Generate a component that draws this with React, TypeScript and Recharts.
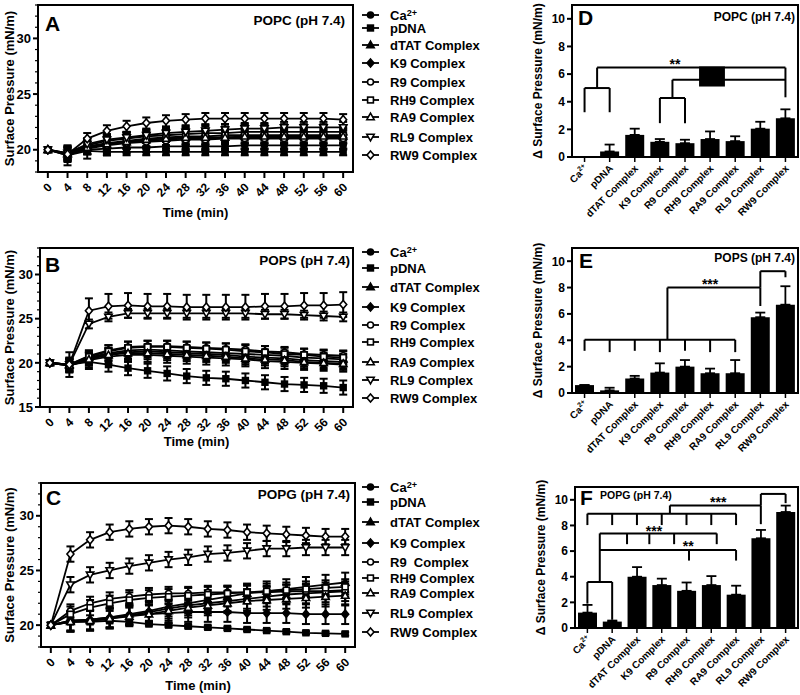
import React from "react";
import {
  LineChart,
  Line,
  BarChart,
  Bar,
  XAxis,
  YAxis,
  ErrorBar,
  ReferenceArea,
  ReferenceLine,
  ReferenceDot,
} from "recharts";

const FONT = "'Liberation Sans', Arial, Helvetica, sans-serif";

const times = [0, 4, 8, 12, 16, 20, 24, 28, 32, 36, 40, 44, 48, 52, 56, 60];
const seriesNames = [
  "Ca2+",
  "pDNA",
  "dTAT Complex",
  "K9 Complex",
  "R9 Complex",
  "RH9 Complex",
  "RA9 Complex",
  "RL9 Complex",
  "RW9 Complex",
];
const popgNames = seriesNames.map((n) => (n === "R9 Complex" ? "R9\u00a0 Complex" : n));

// surface pressure (mN/m) over time, one row per series (same order as seriesNames)
const popcCurves = [
  [20, 19.6, 20.0, 20.1, 20.2, 20.2, 20.3, 20.3, 20.3, 20.3, 20.4, 20.4, 20.4, 20.4, 20.4, 20.4],
  [20, 19.5, 19.9, 19.8, 19.8, 19.8, 19.8, 19.8, 19.8, 19.8, 19.8, 19.8, 19.8, 19.8, 19.8, 19.8],
  [20, 19.7, 20.4, 20.8, 21.0, 21.2, 21.3, 21.4, 21.5, 21.5, 21.6, 21.6, 21.6, 21.6, 21.6, 21.6],
  [20, 19.6, 20.2, 20.5, 20.7, 20.8, 20.9, 21.0, 21.0, 21.1, 21.1, 21.1, 21.1, 21.1, 21.1, 21.1],
  [20, 19.5, 20.1, 20.4, 20.6, 20.7, 20.8, 20.9, 20.9, 21.0, 21.0, 21.0, 21.0, 21.0, 21.0, 21.0],
  [20, 19.6, 20.3, 20.6, 20.8, 21.0, 21.1, 21.2, 21.2, 21.3, 21.3, 21.3, 21.3, 21.3, 21.3, 21.3],
  [20, 19.6, 20.2, 20.5, 20.7, 20.9, 21.0, 21.1, 21.1, 21.1, 21.2, 21.2, 21.2, 21.2, 21.2, 21.2],
  [20, 19.7, 20.5, 20.9, 21.1, 21.3, 21.5, 21.6, 21.7, 21.8, 21.9, 21.9, 22.0, 22.0, 22.0, 22.0],
  [20, 19.6, 21.0, 21.7, 22.1, 22.4, 22.6, 22.7, 22.8, 22.8, 22.8, 22.8, 22.8, 22.8, 22.8, 22.7],
];
const popcErrors = [0.4, 0.3, 0.6, 0.6, 0.9, 0.7, 0.6, 0.5, 0.5];

const popsCurves = [
  [20, 19.7, 20.3, 20.7, 20.9, 20.9, 20.8, 20.7, 20.6, 20.5, 20.4, 20.2, 20.1, 20.0, 19.9, 19.8],
  [20, 19.8, 20.1, 19.8, 19.4, 19.1, 18.8, 18.5, 18.3, 18.2, 18.0, 17.8, 17.6, 17.5, 17.4, 17.2],
  [20, 19.8, 20.6, 21.1, 21.4, 21.5, 21.4, 21.3, 21.2, 21.1, 21.0, 20.9, 20.8, 20.6, 20.5, 20.4],
  [20, 19.7, 20.5, 21.0, 21.2, 21.3, 21.2, 21.1, 21.0, 20.9, 20.7, 20.6, 20.5, 20.3, 20.2, 20.1],
  [20, 19.8, 20.8, 21.4, 21.8, 21.9, 21.9, 21.8, 21.7, 21.6, 21.5, 21.3, 21.2, 21.0, 20.9, 20.8],
  [20, 19.8, 20.7, 21.3, 21.7, 21.8, 21.8, 21.7, 21.6, 21.5, 21.3, 21.2, 21.0, 20.9, 20.7, 20.6],
  [20, 19.7, 20.4, 20.9, 21.1, 21.1, 21.0, 20.9, 20.8, 20.7, 20.5, 20.4, 20.3, 20.1, 20.0, 19.9],
  [20, 19.8, 24.4, 25.2, 25.6, 25.6, 25.6, 25.6, 25.6, 25.6, 25.6, 25.5, 25.5, 25.4, 25.3, 25.2],
  [20, 19.8, 25.9, 26.4, 26.5, 26.4, 26.4, 26.3, 26.3, 26.3, 26.3, 26.4, 26.4, 26.5, 26.5, 26.6],
];
const popsErrors = [0.8, 0.8, 0.6, 0.7, 0.6, 0.7, 0.7, 0.5, 1.4];

const popgCurves = [
  [20, 20.3, 20.4, 20.6, 20.9, 21.2, 21.5, 21.8, 22.0, 22.2, 22.4, 22.6, 22.8, 22.9, 23.0, 23.1],
  [20, 20.3, 20.3, 20.4, 20.3, 20.1, 20.0, 19.9, 19.8, 19.7, 19.6, 19.5, 19.4, 19.3, 19.25, 19.2],
  [20, 20.4, 20.5, 20.7, 21.0, 21.3, 21.7, 22.0, 22.3, 22.6, 22.9, 23.1, 23.3, 23.5, 23.7, 23.9],
  [20, 20.4, 20.5, 20.7, 20.9, 21.0, 21.1, 21.2, 21.2, 21.2, 21.1, 21.1, 21.1, 21.0, 21.0, 21.0],
  [20, 21.3, 22.0, 22.4, 22.6, 22.8, 22.9, 22.9, 23.0, 23.0, 23.0, 23.0, 23.1, 23.1, 23.1, 23.2],
  [20, 21.0, 21.6, 22.0, 22.3, 22.5, 22.6, 22.7, 22.8, 22.9, 23.0, 23.1, 23.2, 23.3, 23.4, 23.5],
  [20, 20.3, 20.4, 20.6, 20.8, 21.0, 21.3, 21.6, 21.8, 22.0, 22.2, 22.3, 22.4, 22.5, 22.6, 22.7],
  [20, 23.7, 24.6, 25.0, 25.4, 25.7, 26.0, 26.2, 26.5, 26.6, 26.8, 27.0, 27.0, 27.1, 27.1, 27.1],
  [20, 26.5, 27.8, 28.5, 28.8, 29.0, 29.1, 29.0, 28.8, 28.7, 28.5, 28.4, 28.3, 28.2, 28.1, 28.1],
];
const popgErrors = [0.9, 0.15, 0.9, 0.9, 0.6, 0.7, 0.9, 0.7, 0.7];

// change in surface pressure (mN/m) per category
const popcDelta = [0, 0.4, 1.6, 1.1, 1.0, 1.3, 1.15, 2.05, 2.8];
const popcDeltaErr = [0, 0.5, 0.45, 0.2, 0.25, 0.55, 0.35, 0.5, 0.65];
const popsDelta = [0.6, 0.2, 1.1, 1.55, 2.0, 1.5, 1.5, 5.75, 6.7];
const popsDeltaErr = [0, 0.2, 0.2, 0.7, 0.5, 0.35, 1.0, 0.35, 1.4];
const popgDelta = [1.2, 0.5, 4.0, 3.35, 2.9, 3.35, 2.6, 7.0, 9.05];
const popgDeltaErr = [0.6, 0.08, 0.75, 0.5, 0.65, 0.7, 0.7, 0.65, 0.5];

// significance brackets: [x1, y1, x2, y2] in (category index, mN/m)
const popcBrackets = [
  [0, 3.24, 0, 4.99], [0, 4.99, 1, 4.99], [1, 4.99, 1, 3.24],
  [0.5, 4.99, 0.5, 6.47], [0.5, 6.47, 8, 6.47], [8, 6.47, 8, 4.32],
  [3.5, 5.59, 8, 5.59],
  [3, 2.45, 3, 4.27], [3, 4.27, 4, 4.27], [4, 4.27, 4, 2.45], [3.5, 4.27, 3.5, 5.59],
];
const popcBoxes = [[4.56, 5.1, 5.59, 6.55]];
const popcStars = [{ x: 3.6, y: 6.95, t: "**" }];

const popsBrackets = [
  [0, 4.04, 6, 4.04],
  [0, 3.2, 0, 4.04], [1, 3.1, 1, 4.04], [2, 3.2, 2, 4.04], [3, 3.1, 3, 4.04],
  [4, 3.2, 4, 4.04], [5, 3.1, 5, 4.04], [6, 3.1, 6, 4.04],
  [3.3, 4.04, 3.3, 8.0], [3.3, 8.0, 7, 8.0], [7, 8.0, 7, 6.6],
  [7, 8.0, 7, 9.24], [7, 9.24, 8, 9.24], [8, 9.24, 8, 8.78],
];
const popsStars = [{ x: 5.0, y: 8.5, t: "***" }];

const popgBrackets = [
  [0, 8.92, 6, 8.92],
  [0, 8.03, 0, 8.92], [1, 8.03, 1, 8.92], [2, 8.03, 2, 8.92], [3, 8.03, 3, 8.92],
  [4, 8.03, 4, 8.92], [5, 8.03, 5, 8.92], [6, 8.03, 6, 8.92],
  [3.33, 8.92, 3.33, 9.56], [3.33, 9.56, 7, 9.56], [7, 9.56, 7, 8.1],
  [7, 9.56, 7, 10.46], [7, 10.46, 8, 10.46], [8, 10.46, 8, 9.74],
  [0.5, 7.38, 5.22, 7.38],
  [1.6, 6.54, 1.6, 7.38], [2.5, 6.54, 2.5, 7.38], [3.5, 6.54, 3.5, 7.38], [5.22, 6.54, 5.22, 7.38],
  [0.5, 6.08, 6, 6.08], [4.1, 5.26, 4.1, 6.08], [6, 5.26, 6, 6.08],
  [0.5, 3.59, 0.5, 7.38],
  [0, 3.59, 1, 3.59], [0, 3.59, 0, 1.9], [1, 3.59, 1, 0.64],
];
const popgStars = [
  { x: 5.28, y: 10.1, t: "***" },
  { x: 2.69, y: 7.8, t: "***" },
  { x: 4.07, y: 6.6, t: "**" },
];

const markerKinds = ["circle", "square", "triangle", "diamond", "circle", "square", "triangle", "triangleDown", "diamond"];
const markerFilled = [true, true, true, true, false, false, false, false, false];

function Marker({ cx, cy, kind }: { cx: number; cy: number; kind: number }) {
  const props = { fill: markerFilled[kind] ? "#000" : "#fff", stroke: "#000", strokeWidth: 1.6 };
  switch (markerKinds[kind]) {
    case "circle":
      return <circle cx={cx} cy={cy} r={3} {...props} />;
    case "square":
      return <rect x={cx - 2.9} y={cy - 2.9} width={5.8} height={5.8} {...props} />;
    case "triangle":
      return <polygon points={`${cx},${cy - 3.8} ${cx + 3.7},${cy + 2.7} ${cx - 3.7},${cy + 2.7}`} {...props} />;
    case "triangleDown":
      return <polygon points={`${cx},${cy + 3.8} ${cx + 3.7},${cy - 2.7} ${cx - 3.7},${cy - 2.7}`} {...props} />;
    default:
      return <polygon points={`${cx},${cy - 4.1} ${cx + 3.5},${cy} ${cx},${cy + 4.1} ${cx - 3.5},${cy}`} {...props} />;
  }
}

function CaLabel({ rise = 5 }: { rise?: number }) {
  return (
    <>
      <tspan>Ca</tspan>
      <tspan dy={-rise} fontSize="0.7em">2+</tspan>
    </>
  );
}

const boldText = { fontFamily: FONT, fontWeight: "bold" as const, fill: "#000" };

function makeYTick(isMajor: (v: number) => boolean, fontSize: number) {
  return (p: any) => {
    const v = p.payload.value;
    const major = isMajor(v);
    return (
      <g key={`yt-${v}`}>
        <line x1={p.x - (major ? 5 : 3)} x2={p.x} y1={p.y} y2={p.y} stroke="#000" strokeWidth={major ? 2 : 1.2} />
        {major && (
          <text x={p.x - 7} y={p.y + fontSize * 0.36} textAnchor="end" fontSize={fontSize} {...boldText}>
            {v}
          </text>
        )}
      </g>
    );
  };
}

const timeTick = (p: any) => {
  const ax = p.x + 5;
  const ay = p.y + 16;
  return (
    <g key={`xt-${p.payload.value}`}>
      <line x1={p.x} x2={p.x} y1={p.y} y2={p.y + 6} stroke="#000" strokeWidth={2} />
      <text transform={`rotate(-45 ${ax} ${ay})`} x={ax} y={ay} textAnchor="end" fontSize={12} {...boldText}>
        {p.payload.value}
      </text>
    </g>
  );
};

function makeCatTick(names: string[]) {
  return (p: any) => {
    const name = names[p.payload.value];
    const ax = p.x + 4;
    const ay = p.y + 12;
    return (
      <g key={`ct-${p.payload.value}`}>
        <line x1={p.x} x2={p.x} y1={p.y} y2={p.y + 5} stroke="#000" strokeWidth={1.5} />
        <text transform={`rotate(-45 ${ax} ${ay})`} x={ax} y={ay} textAnchor="end" fontSize={10} {...boldText}>
          {name === "Ca2+" ? <CaLabel rise={4} /> : name}
        </text>
      </g>
    );
  };
}

type TimeProps = {
  top: number;
  axisW: number;
  width: number;
  height: number;
  xAxisH: number;
  labelOffset: number;
  curves: number[][];
  errs: number[];
  yMin: number;
  yMax: number;
};

function TimeChart({ top, axisW, width, height, xAxisH, labelOffset, curves, errs, yMin, yMax }: TimeProps) {
  const rows = times.map((t, i) => {
    const r: Record<string, number> = { t };
    curves.forEach((c, s) => {
      r[`s${s}`] = c[i];
      r[`e${s}`] = i === 0 ? 0 : errs[s];
    });
    return r;
  });
  const yTicks: number[] = [];
  for (let v = yMin; v <= yMax; v++) yTicks.push(v);

  return (
    <div style={{ position: "absolute", left: 0, top }}>
      <LineChart width={width} height={height} data={rows} margin={{ top: 5, right: 3, bottom: 0, left: 0 }}>
        <XAxis
          type="number"
          dataKey="t"
          domain={[-2, 62]}
          ticks={times}
          interval={0}
          allowDataOverflow
          height={xAxisH}
          tickSize={0}
          tickMargin={0}
          tickLine={false}
          axisLine={{ stroke: "#000", strokeWidth: 2 }}
          tick={timeTick}
          label={{ value: "Time (min)", position: "insideBottom", offset: labelOffset, style: { ...boldText, fontSize: 13 } }}
        />
        <YAxis
          type="number"
          domain={[yMin, yMax]}
          ticks={yTicks}
          interval={0}
          allowDataOverflow
          width={axisW}
          tickSize={0}
          tickMargin={0}
          tickLine={false}
          axisLine={{ stroke: "#000", strokeWidth: 2 }}
          tick={makeYTick((v) => v % 5 === 0, 13)}
          label={{
            value: "Surface Pressure (mN/m)",
            angle: -90,
            position: "insideLeft",
            offset: 9,
            style: { ...boldText, fontSize: 13, textAnchor: "middle" },
          }}
        />
        {curves.map((_, s) => (
          <Line
            key={s}
            type="linear"
            dataKey={`s${s}`}
            stroke="#000"
            strokeWidth={1.8}
            isAnimationActive={false}
            activeDot={false}
            dot={(p: any) => <Marker key={`d${s}-${p.index}`} cx={p.cx} cy={p.cy} kind={s} />}
          >
            <ErrorBar dataKey={`e${s}`} width={4} stroke="#000" strokeWidth={2} direction="y" />
          </Line>
        ))}
        <ReferenceArea x1={-2} x2={62} y1={yMin} y2={yMax} fill="none" stroke="#000" strokeWidth={2} ifOverflow="visible" />
      </LineChart>
    </div>
  );
}

type DeltaProps = {
  left: number;
  top: number;
  marginTop: number;
  height: number;
  xAxisH: number;
  names: string[];
  values: number[];
  errs: number[];
  brackets: number[][];
  boxes?: number[][];
  stars: { x: number; y: number; t: string }[];
};

function DeltaChart({ left, top, marginTop, height, xAxisH, names, values, errs, brackets, boxes = [], stars }: DeltaProps) {
  const rows = names.map((_, i) => ({ idx: i, v: values[i], e: [0, errs[i]] }));
  const catTicks = names.map((_, i) => i);
  return (
    <div style={{ position: "absolute", left, top }}>
      <BarChart width={800 - left} height={height} data={rows} margin={{ top: marginTop, right: 2, bottom: 0, left: 0 }}>
        <XAxis
          type="number"
          dataKey="idx"
          domain={[-0.5, 8.5]}
          ticks={catTicks}
          interval={0}
          allowDataOverflow
          height={xAxisH}
          tickSize={0}
          tickMargin={0}
          tickLine={false}
          axisLine={{ stroke: "#000", strokeWidth: 2 }}
          tick={makeCatTick(names)}
        />
        <YAxis
          type="number"
          domain={[0, 11]}
          ticks={[0, 2, 4, 6, 8, 10]}
          interval={0}
          allowDataOverflow
          width={47}
          tickSize={0}
          tickMargin={0}
          tickLine={false}
          axisLine={{ stroke: "#000", strokeWidth: 2 }}
          tick={makeYTick(() => true, 12)}
          label={{
            value: "\u0394 Surface Pressure (mN/m)",
            angle: -90,
            position: "insideLeft",
            offset: 13,
            style: { ...boldText, fontSize: 12, textAnchor: "middle" },
          }}
        />
        <Bar dataKey="v" fill="#000" barSize={19} isAnimationActive={false}>
          <ErrorBar dataKey="e" width={5} stroke="#000" strokeWidth={1.8} direction="y" />
        </Bar>
        {brackets.map((b, i) => (
          <ReferenceLine
            key={`br${i}`}
            segment={[
              { x: b[0], y: b[1] },
              { x: b[2], y: b[3] },
            ]}
            stroke="#000"
            strokeWidth={2}
            ifOverflow="visible"
          />
        ))}
        {boxes.map((b, i) => (
          <ReferenceArea key={`bx${i}`} x1={b[0]} y1={b[1]} x2={b[2]} y2={b[3]} fill="#000" fillOpacity={1} stroke="none" />
        ))}
        {stars.map((s, i) => (
          <ReferenceDot
            key={`st${i}`}
            x={s.x}
            y={s.y}
            r={0}
            ifOverflow="visible"
            shape={(p: any) => (
              <text x={p.cx} y={p.cy + 8} textAnchor="middle" fontSize={14} {...boldText}>
                {s.t}
              </text>
            )}
          />
        ))}
        <ReferenceArea x1={-0.5} x2={8.5} y1={0} y2={11} fill="none" stroke="#000" strokeWidth={2} ifOverflow="visible" />
      </BarChart>
    </div>
  );
}

function LegendBlock({ ys, names }: { ys: number[]; names: string[] }) {
  return (
    <g>
      {names.map((n, s) => (
        <g key={n}>
          <line x1={362} x2={379} y1={ys[s]} y2={ys[s]} stroke="#000" strokeWidth={1.8} />
          <Marker cx={370.5} cy={ys[s]} kind={s} />
          <text x={390} y={ys[s] + 5} fontSize={13} {...boldText}>
            {n === "Ca2+" ? <CaLabel rise={4} /> : n}
          </text>
        </g>
      ))}
    </g>
  );
}

const legendYA = [15, 28, 45, 63, 82, 100, 117, 137, 155];
const legendYB = [252, 268, 287, 307, 325, 342, 362, 380, 398];
const legendYC = [487, 502, 522, 543, 562, 578, 593, 613, 632];

export default function App() {
  return (
    <div style={{ position: "absolute", left: 0, top: 0, width: 800, height: 695, background: "#fff", overflow: "hidden" }}>
      <TimeChart top={0} axisW={38} width={356} height={223} xAxisH={51} labelOffset={6} curves={popcCurves} errs={popcErrors} yMin={18} yMax={33} />
      <TimeChart top={243} axisW={40} width={356} height={209} xAxisH={45} labelOffset={6} curves={popsCurves} errs={popsErrors} yMin={15} yMax={33} />
      <TimeChart top={478} axisW={41} width={358} height={217} xAxisH={48} labelOffset={5} curves={popgCurves} errs={popgErrors} yMin={18} yMax={33} />

      <DeltaChart left={525} top={0} marginTop={5} height={235} xAxisH={78} names={seriesNames} values={popcDelta} errs={popcDeltaErr} brackets={popcBrackets} boxes={popcBoxes} stars={popcStars} />
      <DeltaChart left={525} top={243} marginTop={5} height={228} xAxisH={78} names={seriesNames} values={popsDelta} errs={popsDeltaErr} brackets={popsBrackets} stars={popsStars} />
      <DeltaChart left={528} top={470} marginTop={17} height={225} xAxisH={67} names={seriesNames} values={popgDelta} errs={popgDeltaErr} brackets={popgBrackets} stars={popgStars} />

      <svg width={800} height={695} style={{ position: "absolute", left: 0, top: 0, pointerEvents: "none" }}>
        <text x={45} y={31} fontSize={21} {...boldText}>A</text>
        <text x={45} y={272} fontSize={21} {...boldText}>B</text>
        <text x={46} y={505} fontSize={21} {...boldText}>C</text>
        <text x={578} y={25} fontSize={21} {...boldText}>D</text>
        <text x={579} y={268} fontSize={21} {...boldText}>E</text>
        <text x={580} y={505} fontSize={21} {...boldText}>F</text>

        <text x={345} y={25} fontSize={13.5} textAnchor="end" {...boldText}>POPC (pH 7.4)</text>
        <text x={350} y={265} fontSize={13.5} textAnchor="end" {...boldText}>POPS (pH 7.4)</text>
        <text x={350} y={499} fontSize={13.5} textAnchor="end" {...boldText}>POPG (pH 7.4)</text>
        <text x={795} y={21} fontSize={12} textAnchor="end" {...boldText}>POPC (pH 7.4)</text>
        <text x={795} y={262} fontSize={12} textAnchor="end" {...boldText}>POPS (pH 7.4)</text>
        <text x={600} y={499} fontSize={10.5} {...boldText}>POPG (pH 7.4)</text>

        <LegendBlock ys={legendYA} names={seriesNames} />
        <LegendBlock ys={legendYB} names={seriesNames} />
        <LegendBlock ys={legendYC} names={popgNames} />
      </svg>
    </div>
  );
}
